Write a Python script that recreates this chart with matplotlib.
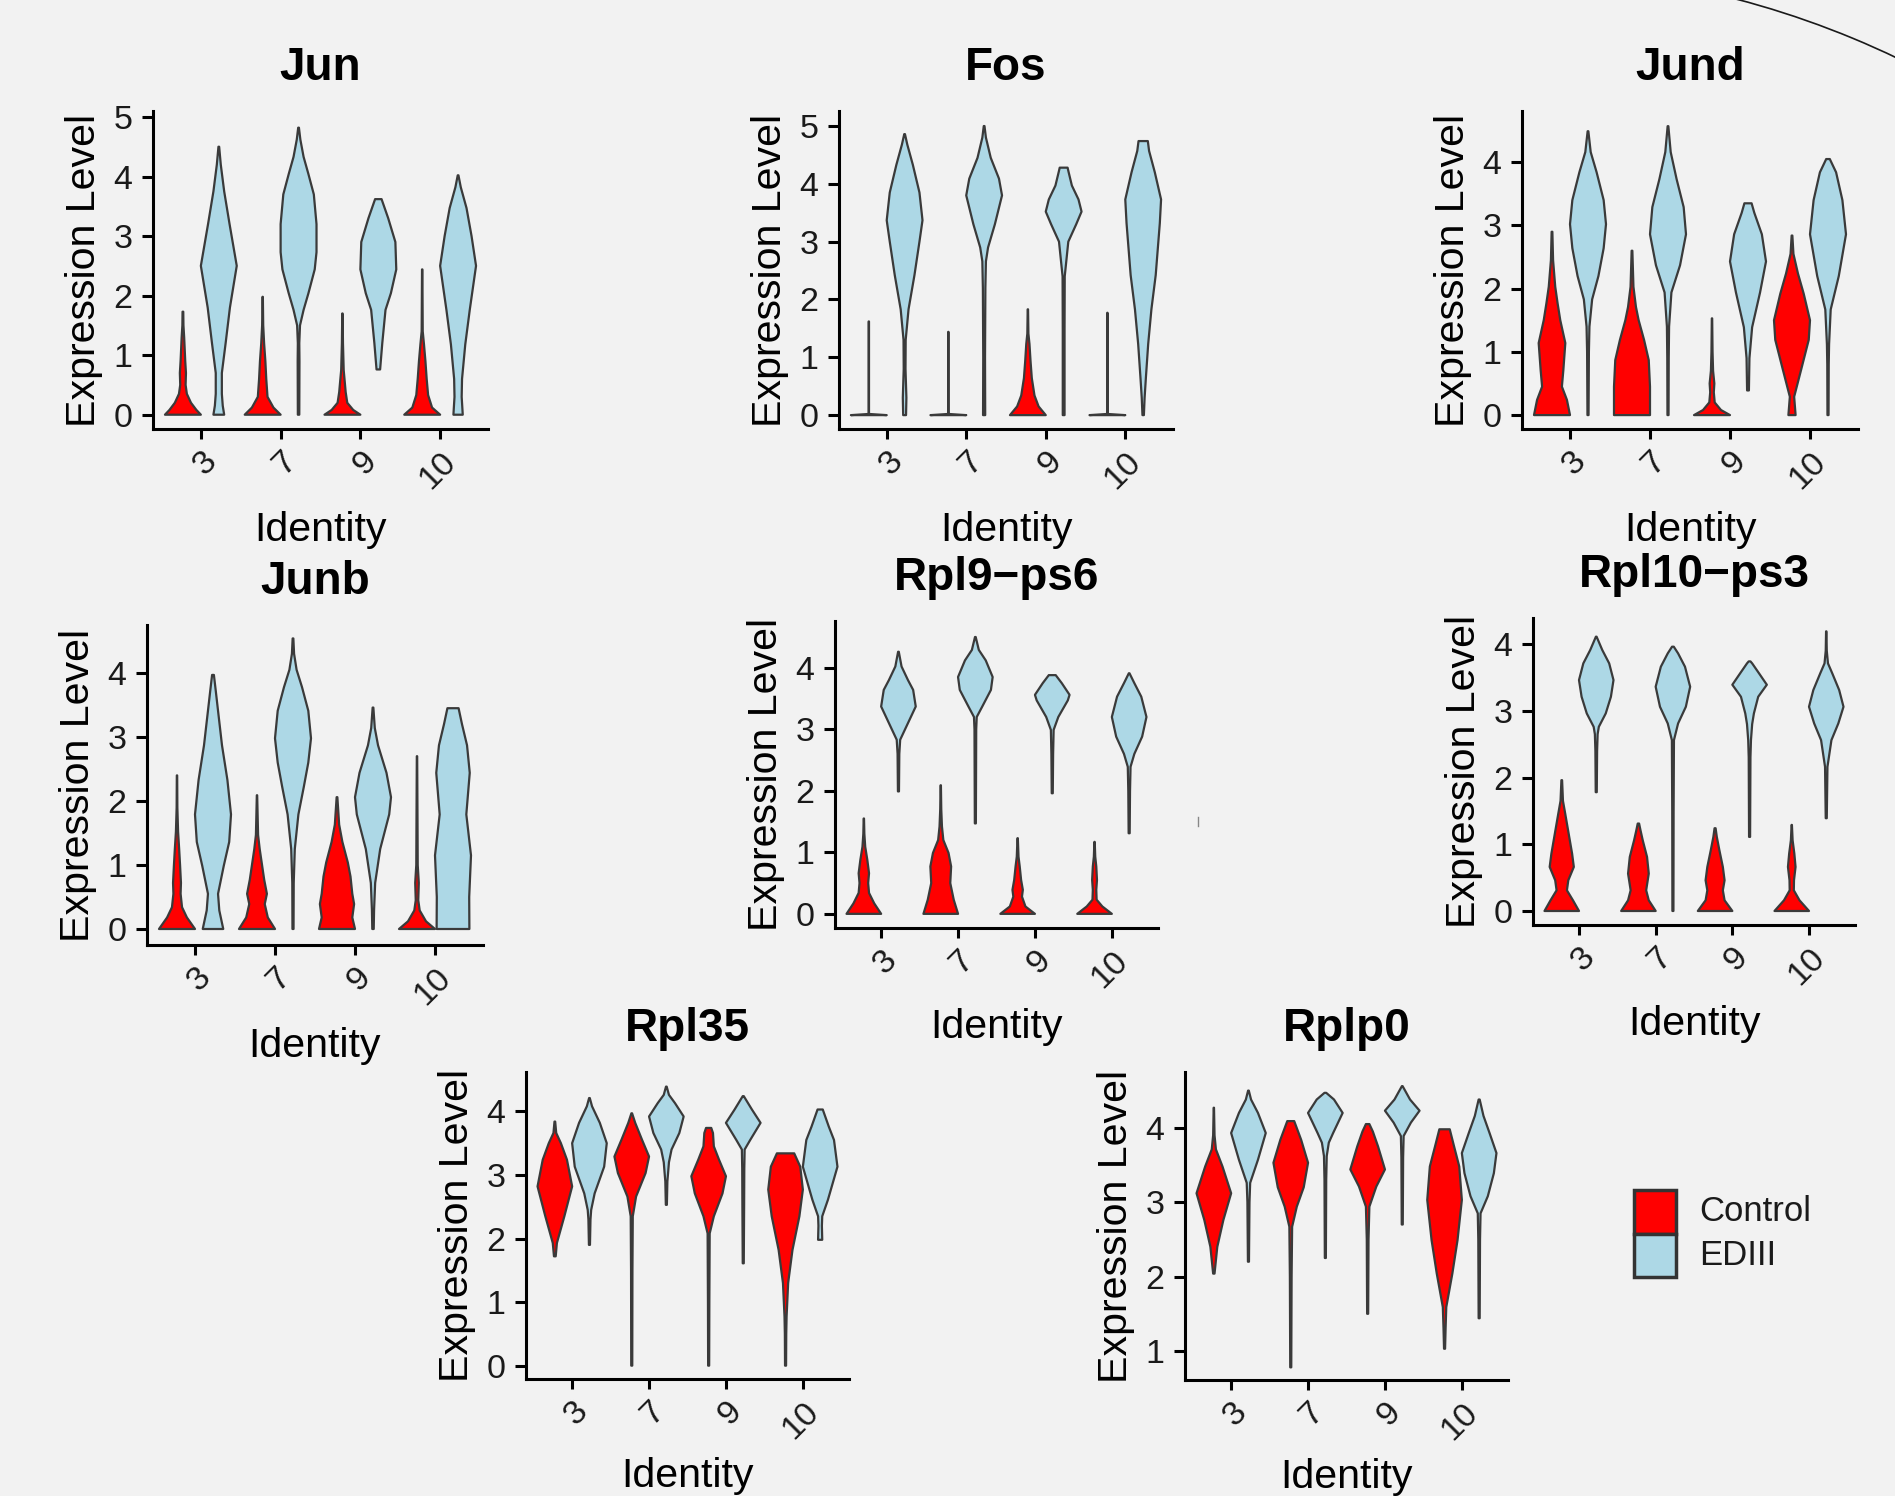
import matplotlib
matplotlib.use("Agg")
import matplotlib.pyplot as plt
import numpy as np
from matplotlib.patches import Rectangle, Arc
from matplotlib.lines import Line2D
from matplotlib.transforms import IdentityTransform

W, H = 1895, 1496
DPI = 100

plt.rcParams["font.family"] = ["Liberation Sans", "DejaVu Sans"]

BG = "#f2f2f2"
OUTLINE = "#3a3a3a"

CLUSTERS = ["3", "7", "9", "10"]
GROUPS = ["Control", "EDIII"]
GROUP_COLORS = ["#ff0000", "#add8e6"]

# Violin profiles: (expression levels, relative half-width 0..1)
# order: cl3 Control, cl3 EDIII, cl7 Control, cl7 EDIII, cl9 ..., cl10 ...
JUN = [
    ([0, 0.08, 0.2, 0.35, 0.5, 0.7, 0.9, 1.1, 1.3, 1.5, 1.73],
     [1, 0.75, 0.45, 0.22, 0.15, 0.17, 0.13, 0.1, 0.07, 0.03, 0.02]),
    ([0, 0.15, 0.35, 0.7, 1.2, 1.8, 2.5, 3.2, 3.75, 4.2, 4.5],
     [0.3, 0.22, 0.17, 0.17, 0.38, 0.62, 1.0, 0.6, 0.3, 0.11, 0.02]),
    ([0, 0.12, 0.3, 0.6, 0.9, 1.2, 1.5, 1.98],
     [1, 0.6, 0.27, 0.2, 0.15, 0.08, 0.03, 0.01]),
    ([0, 0.9, 1.2, 1.5, 1.76, 2.04, 2.44, 2.73, 3.2, 3.7, 4.04, 4.33, 4.62, 4.82],
     [0.04, 0.05, 0.04, 0.08, 0.28, 0.55, 0.9, 1.0, 1.0, 0.85, 0.55, 0.28, 0.1, 0.02]),
    ([0, 0.08, 0.2, 0.38, 0.55, 0.75, 1.2, 1.7],
     [1, 0.6, 0.27, 0.18, 0.13, 0.07, 0.03, 0.01]),
    ([0.76, 1.2, 1.76, 2.04, 2.44, 2.9, 3.3, 3.62],
     [0.1, 0.22, 0.4, 0.7, 1.0, 0.95, 0.55, 0.18]),
    ([0, 0.12, 0.33, 0.6, 0.9, 1.18, 1.4, 2.44],
     [1, 0.55, 0.33, 0.25, 0.18, 0.1, 0.03, 0.01]),
    ([0, 0.3, 0.6, 1.18, 1.76, 2.5, 3.0, 3.47, 3.82, 4.02],
     [0.26, 0.2, 0.22, 0.4, 0.65, 1.0, 0.75, 0.47, 0.15, 0.02]),
]

FOS = [
    ([0, 0.02, 1.62], [1, 0.01, 0.01]),
    ([0, 0.3, 0.8, 1.3, 1.83, 2.42, 3.0, 3.37, 3.85, 4.33, 4.68, 4.86],
     [0.08, 0.1, 0.05, 0.06, 0.22, 0.55, 0.83, 1.0, 0.83, 0.46, 0.15, 0.02]),
    ([0, 0.02, 1.44], [1, 0.01, 0.01]),
    ([0, 1.0, 2.2, 2.66, 2.9, 3.3, 3.8, 4.09, 4.45, 4.8, 5.0],
     [0.06, 0.05, 0.07, 0.1, 0.22, 0.6, 1.0, 0.83, 0.37, 0.1, 0.02]),
    ([0, 0.15, 0.34, 0.64, 0.93, 1.23, 1.41, 1.83],
     [1, 0.6, 0.37, 0.22, 0.15, 0.09, 0.03, 0.01]),
    ([0, 1.5, 2.4, 3.0, 3.3, 3.52, 3.73, 3.97, 4.2, 4.28],
     [0.05, 0.05, 0.06, 0.26, 0.7, 1.0, 0.83, 0.46, 0.28, 0.22]),
    ([0, 0.02, 1.77], [1, 0.01, 0.01]),
    ([0, 0.3, 0.64, 1.23, 1.83, 2.42, 3.32, 3.73, 4.2, 4.57, 4.74],
     [0.04, 0.08, 0.15, 0.28, 0.46, 0.7, 0.93, 1.0, 0.65, 0.33, 0.26]),
]

JUND = [
    ([0, 0.24, 0.45, 0.71, 1.14, 1.5, 1.77, 2.03, 2.45, 2.9],
     [1, 0.83, 0.55, 0.63, 0.74, 0.46, 0.31, 0.18, 0.06, 0.02]),
    ([0, 1.0, 1.4, 1.83, 2.2, 2.64, 3.02, 3.4, 3.84, 4.16, 4.49],
     [0.03, 0.05, 0.08, 0.23, 0.58, 0.87, 1.0, 0.87, 0.48, 0.15, 0.02]),
    ([0, 0.45, 0.87, 1.19, 1.5, 1.71, 2.03, 2.6],
     [1, 1.0, 0.93, 0.67, 0.37, 0.22, 0.08, 0.02]),
    ([0, 0.9, 1.4, 1.94, 2.37, 2.86, 3.29, 3.73, 4.16, 4.57],
     [0.03, 0.04, 0.06, 0.19, 0.67, 1.0, 0.87, 0.48, 0.15, 0.02]),
    ([0, 0.08, 0.2, 0.36, 0.5, 0.7, 1.0, 1.53],
     [1, 0.5, 0.15, 0.1, 0.13, 0.06, 0.03, 0.01]),
    ([0.39, 0.9, 1.39, 1.94, 2.43, 2.86, 3.2, 3.35],
     [0.05, 0.08, 0.23, 0.67, 1.0, 0.77, 0.35, 0.2]),
    ([0, 0.29, 0.71, 1.19, 1.5, 1.92, 2.24, 2.55, 2.84],
     [0.2, 0.12, 0.5, 0.93, 1.0, 0.65, 0.33, 0.08, 0.02]),
    ([0, 0.8, 1.12, 1.67, 2.2, 2.86, 3.4, 3.84, 4.05],
     [0.03, 0.04, 0.06, 0.15, 0.6, 1.0, 0.8, 0.45, 0.1]),
]

JUNB = [
    ([0, 0.18, 0.34, 0.55, 0.72, 1.0, 1.25, 1.52, 1.9, 2.4],
     [1, 0.55, 0.28, 0.2, 0.22, 0.17, 0.12, 0.06, 0.02, 0.01]),
    ([0, 0.29, 0.55, 0.99, 1.36, 1.79, 2.33, 2.87, 3.41, 3.73, 3.97],
     [0.57, 0.35, 0.28, 0.6, 0.9, 1.0, 0.8, 0.5, 0.28, 0.15, 0.05]),
    ([0, 0.18, 0.39, 0.55, 0.77, 1.0, 1.25, 1.47, 2.09],
     [1, 0.6, 0.43, 0.55, 0.4, 0.28, 0.15, 0.06, 0.01]),
    ([0, 0.72, 1.25, 1.79, 2.22, 2.6, 2.98, 3.41, 3.78, 4.05, 4.3, 4.54],
     [0.03, 0.04, 0.1, 0.3, 0.6, 0.85, 1.0, 0.85, 0.5, 0.2, 0.06, 0.02]),
    ([0, 0.18, 0.39, 0.55, 0.82, 1.04, 1.36, 1.63, 2.06],
     [1, 0.85, 0.95, 0.85, 0.75, 0.6, 0.3, 0.12, 0.02]),
    ([0, 0.3, 0.72, 1.25, 1.79, 2.06, 2.44, 2.87, 3.14, 3.46],
     [0.04, 0.06, 0.12, 0.4, 0.9, 1.0, 0.75, 0.28, 0.1, 0.02]),
    ([0, 0.12, 0.29, 0.45, 0.72, 1.0, 1.6, 2.7],
     [1, 0.5, 0.15, 0.07, 0.1, 0.04, 0.03, 0.01]),
    ([0, 0.5, 1.15, 1.79, 2.44, 2.87, 3.2, 3.45],
     [0.91, 0.9, 1.0, 0.74, 0.93, 0.78, 0.5, 0.31]),
]

RPL9 = [
    ([0, 0.17, 0.34, 0.5, 0.66, 0.88, 1.09, 1.3, 1.55],
     [1, 0.6, 0.3, 0.25, 0.3, 0.2, 0.08, 0.03, 0.01]),
    ([1.99, 2.6, 2.83, 3.04, 3.37, 3.64, 3.8, 4.02, 4.26],
     [0.03, 0.05, 0.1, 0.45, 1.0, 0.85, 0.55, 0.18, 0.02]),
    ([0, 0.23, 0.5, 0.77, 0.99, 1.2, 1.42, 1.7, 2.09],
     [1, 0.75, 0.55, 0.6, 0.45, 0.15, 0.07, 0.03, 0.01]),
    ([1.47, 3.0, 3.2, 3.37, 3.64, 3.85, 4.12, 4.29, 4.5],
     [0.03, 0.05, 0.08, 0.4, 0.9, 1.0, 0.6, 0.2, 0.02]),
    ([0, 0.12, 0.28, 0.39, 0.55, 0.77, 0.93, 1.23],
     [1, 0.45, 0.25, 0.3, 0.2, 0.12, 0.05, 0.01]),
    ([1.96, 2.6, 2.99, 3.2, 3.47, 3.56, 3.75, 3.88],
     [0.03, 0.05, 0.08, 0.35, 0.9, 1.0, 0.55, 0.2]),
    ([0, 0.12, 0.23, 0.39, 0.55, 0.77, 0.93, 1.17],
     [1, 0.45, 0.12, 0.1, 0.14, 0.1, 0.04, 0.01]),
    ([1.31, 2.0, 2.39, 2.6, 2.88, 3.2, 3.53, 3.75, 3.91],
     [0.03, 0.05, 0.08, 0.3, 0.75, 1.0, 0.7, 0.3, 0.02]),
]

RPL10 = [
    ([0, 0.16, 0.31, 0.46, 0.66, 0.86, 1.16, 1.46, 1.65, 1.96],
     [1, 0.65, 0.3, 0.38, 0.7, 0.6, 0.4, 0.2, 0.07, 0.02]),
    ([1.78, 2.4, 2.65, 2.76, 2.96, 3.21, 3.46, 3.71, 3.91, 4.11],
     [0.03, 0.05, 0.08, 0.15, 0.55, 0.85, 1.0, 0.75, 0.35, 0.02]),
    ([0, 0.16, 0.31, 0.56, 0.81, 1.06, 1.21, 1.31],
     [1, 0.6, 0.45, 0.6, 0.5, 0.25, 0.12, 0.04]),
    ([0, 1.5, 2.56, 2.81, 3.06, 3.36, 3.66, 3.86, 3.96],
     [0.03, 0.04, 0.06, 0.3, 0.75, 1.0, 0.7, 0.3, 0.05]),
    ([0, 0.16, 0.31, 0.46, 0.66, 0.91, 1.11, 1.24],
     [1, 0.55, 0.45, 0.55, 0.45, 0.25, 0.1, 0.03]),
    ([1.11, 2.3, 2.56, 2.8, 2.96, 3.21, 3.39, 3.56, 3.71, 3.74],
     [0.03, 0.05, 0.08, 0.15, 0.25, 0.5, 1.0, 0.55, 0.15, 0.05]),
    ([0, 0.16, 0.31, 0.46, 0.66, 0.86, 1.06, 1.29],
     [1, 0.45, 0.12, 0.13, 0.22, 0.15, 0.05, 0.01]),
    ([1.39, 2.16, 2.56, 2.81, 3.06, 3.31, 3.56, 3.71, 3.9, 4.19],
     [0.03, 0.07, 0.3, 0.7, 1.0, 0.75, 0.35, 0.1, 0.03, 0.01]),
]

RPL35 = [
    ([1.72, 1.93, 2.35, 2.82, 3.24, 3.5, 3.66, 3.84],
     [0.05, 0.12, 0.55, 1.0, 0.7, 0.35, 0.08, 0.02]),
    ([1.9, 2.3, 2.45, 2.71, 3.13, 3.5, 3.82, 4.08, 4.21],
     [0.03, 0.06, 0.1, 0.3, 0.85, 1.0, 0.6, 0.15, 0.02]),
    ([0, 1.5, 2.35, 2.66, 3.03, 3.29, 3.55, 3.82, 3.97],
     [0.03, 0.04, 0.06, 0.25, 0.8, 1.0, 0.6, 0.2, 0.02]),
    ([2.53, 2.9, 3.03, 3.2, 3.4, 3.66, 3.92, 4.13, 4.26, 4.39],
     [0.03, 0.06, 0.1, 0.15, 0.3, 0.75, 1.0, 0.5, 0.15, 0.02]),
    ([0, 1.0, 2.08, 2.35, 2.71, 2.98, 3.24, 3.45, 3.66, 3.74],
     [0.03, 0.04, 0.06, 0.3, 0.8, 1.0, 0.6, 0.3, 0.25, 0.15]),
    ([1.61, 2.5, 3.1, 3.4, 3.55, 3.82, 4.03, 4.24],
     [0.03, 0.05, 0.06, 0.08, 0.4, 1.0, 0.5, 0.03]),
    ([0, 0.5, 0.77, 1.3, 1.82, 2.35, 2.77, 3.13, 3.34],
     [0.03, 0.04, 0.06, 0.15, 0.4, 0.8, 1.0, 0.85, 0.5]),
    ([1.98, 2.2, 2.35, 2.61, 3.13, 3.55, 3.76, 4.03],
     [0.12, 0.1, 0.12, 0.45, 1.0, 0.8, 0.5, 0.15]),
]

RPLP0 = [
    ([2.04, 2.4, 2.76, 3.12, 3.48, 3.71, 3.9, 4.27],
     [0.04, 0.2, 0.55, 1.0, 0.5, 0.12, 0.04, 0.01]),
    ([2.2, 3.0, 3.26, 3.57, 3.93, 4.2, 4.38, 4.5],
     [0.03, 0.06, 0.1, 0.55, 1.0, 0.55, 0.15, 0.02]),
    ([0.78, 2.0, 2.67, 2.94, 3.2, 3.53, 3.84, 4.09],
     [0.03, 0.05, 0.08, 0.35, 0.75, 1.0, 0.6, 0.2]),
    ([2.25, 3.3, 3.62, 3.8, 3.93, 4.2, 4.38, 4.47],
     [0.03, 0.05, 0.08, 0.2, 0.45, 1.0, 0.5, 0.05]),
    ([1.5, 2.5, 2.94, 3.21, 3.44, 3.75, 3.95, 4.05],
     [0.03, 0.05, 0.1, 0.5, 1.0, 0.6, 0.3, 0.1]),
    ([2.7, 3.6, 3.89, 4.07, 4.23, 4.38, 4.56],
     [0.03, 0.05, 0.08, 0.5, 1.0, 0.45, 0.02]),
    ([1.03, 1.3, 1.59, 2.04, 2.49, 3.03, 3.48, 3.75, 3.98],
     [0.03, 0.06, 0.1, 0.45, 0.75, 1.0, 0.85, 0.55, 0.3]),
    ([1.44, 2.5, 2.85, 3.08, 3.39, 3.66, 3.93, 4.16, 4.38],
     [0.03, 0.05, 0.08, 0.5, 0.85, 1.0, 0.6, 0.25, 0.03]),
]

GENES = ["Jun", "Fos", "Jund", "Junb", "Rpl9\u2212ps6", "Rpl10\u2212ps3", "Rpl35", "Rplp0"]
PROFILES = [JUN, FOS, JUND, JUNB, RPL9, RPL10, RPL35, RPLP0]
YLIMS = [(-0.24, 5.1), (-0.24, 5.26), (-0.22, 4.81), (-0.25, 4.75),
         (-0.23, 4.76), (-0.21, 4.39), (-0.21, 4.62), (0.61, 4.75)]
YTICKS = [range(0, 6), range(0, 6), range(0, 5), range(0, 5),
          range(0, 5), range(0, 5), range(0, 5), range(1, 5)]

# panel boxes in pixels: left, top, right, bottom
BOXES = [(153, 111, 488, 429), (839, 111, 1173, 429), (1522, 111, 1858, 429),
         (147, 625, 483, 945), (835, 621, 1158, 928), (1533, 618, 1855, 925),
         (526, 1072, 849, 1379), (1185, 1072, 1508, 1380)]
# distance (px) from the x axis line down to the top of "Identity"
XLAB_GAP = [82, 82, 82, 82, 80, 80, 78, 78]

HALF = 0.225  # half of the dodge slot


def draw_violin(ax, xc, ys, ws, color):
    ys = np.asarray(ys, dtype=float)
    half = HALF * np.asarray(ws, dtype=float)
    xs = np.concatenate([xc + half, (xc - half)[::-1]])
    yy = np.concatenate([ys, ys[::-1]])
    ax.fill(xs, yy, facecolor=color, edgecolor=OUTLINE, linewidth=1.6,
            joinstyle="round", zorder=2)


fig = plt.figure(figsize=(W / DPI, H / DPI), dpi=DPI, facecolor=BG)

for gene, prof, ylim, yt, (l, t, r, b), gap in zip(GENES, PROFILES, YLIMS, YTICKS,
                                                   BOXES, XLAB_GAP):
    ax = fig.add_axes([l / W, 1 - b / H, (r - l) / W, (b - t) / H])
    ax.set_facecolor("none")

    for i, (ys, ws) in enumerate(prof):
        cl, grp = divmod(i, 2)
        xc = cl + 1 + (-HALF if grp == 0 else HALF)
        draw_violin(ax, xc, ys, ws, GROUP_COLORS[grp])

    ax.set_xlim(0.4, 4.6)
    ax.set_ylim(*ylim)
    ax.set_xticks(range(1, 5))
    ax.set_xticklabels(CLUSTERS, rotation=45, ha="right", va="top",
                       rotation_mode="anchor")
    ax.set_yticks(list(yt))

    for side in ("top", "right"):
        ax.spines[side].set_visible(False)
    for side in ("left", "bottom"):
        ax.spines[side].set_linewidth(2.2)
        ax.spines[side].set_color("black")

    ax.tick_params(axis="y", length=7.9, width=2.2, pad=7, labelsize=24.5,
                   colors="black", labelcolor="#1a1a1a")
    ax.tick_params(axis="x", length=7.2, width=2.2, pad=5, labelsize=24.5,
                   colors="black", labelcolor="#1a1a1a")

    ax.set_title(gene, fontsize=33, fontweight="bold", pad=22.3)
    ax.set_ylabel("Expression Level", fontsize=29.6)
    ax.set_xlabel("Identity", fontsize=29.6)
    ax.yaxis.set_label_coords(-50 / (r - l), 0.5)
    ax.xaxis.set_label_coords(0.5, -gap / (b - t))

# legend
leg_left, leg_top, box_w, box_h = 1634, 1190, 42, 43.5
for k, (name, col) in enumerate(zip(GROUPS, GROUP_COLORS)):
    y0 = leg_top + k * box_h
    fig.add_artist(Rectangle((leg_left / W, 1 - (y0 + box_h) / H), box_w / W, box_h / H,
                             transform=fig.transFigure, facecolor=col,
                             edgecolor="#333333", linewidth=2.5))
    fig.text(1699 / W, 1 - (y0 + box_h / 2) / H, name, fontsize=25,
             ha="left", va="center", color="#1a1a1a")

# stray screenshot artefacts: arc in the top right corner and a small dash
fig.add_artist(Arc((1507, H - 873), 1807, 1807, theta1=55, theta2=80,
                   transform=IdentityTransform(), color="#1a1a1a", linewidth=1.2))
fig.add_artist(Line2D([1198, 1198], [H - 817, H - 826], transform=IdentityTransform(),
                      color="#888888", linewidth=1.0))

fig.savefig("out.png", dpi=DPI, facecolor=BG)
